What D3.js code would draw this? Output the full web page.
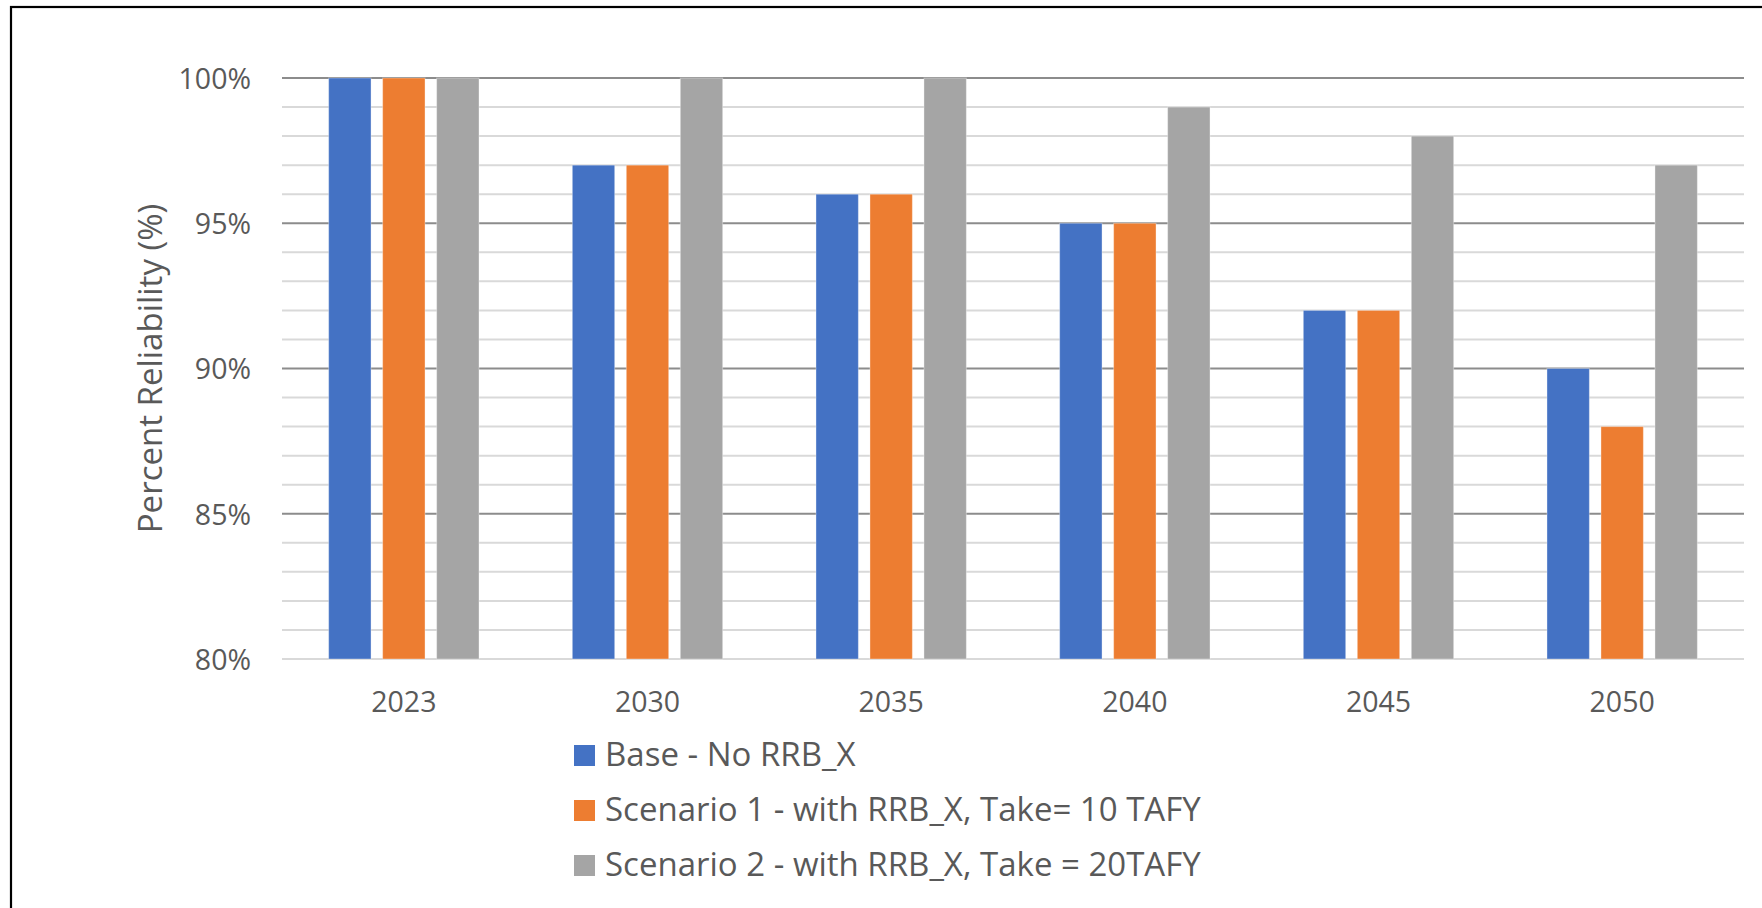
<!DOCTYPE html>
<html>
<head>
<meta charset="utf-8">
<script src="https://cdn.jsdelivr.net/npm/d3@7"></script>
<style>
  html, body { margin: 0; padding: 0; background: #ffffff; }
  svg { display: block; font-family: "Open Sans", "Noto Sans", sans-serif; }
</style>
</head>
<body>
<svg id="chart" width="1762" height="908"></svg>
<script>
// Reliability by planning year for each operating scenario
const years = ["2023", "2030", "2035", "2040", "2045", "2050"];
const seriesNames = [
  "Base - No RRB_X",
  "Scenario 1 - with RRB_X, Take= 10 TAFY",
  "Scenario 2 - with RRB_X, Take = 20TAFY"
];
const baseValues = [100, 97, 96, 95, 92, 90];
const scenario1Values = [100, 97, 96, 95, 92, 88];
const scenario2Values = [100, 100, 100, 99, 98, 97];
const yTicks = [80, 85, 90, 95, 100];
const seriesColors = ["#4472C4", "#ED7D31", "#A5A5A5"];
const yTitle = "Percent Reliability (%)";

const seriesValues = [baseValues, scenario1Values, scenario2Values];
const rows = years.map((yr, i) => ({
  year: yr,
  values: seriesNames.map((name, s) => ({ name, s, value: seriesValues[s][i] }))
}));

const svg = d3.select("#chart");
const plot = { left: 282, right: 1744, top: 78, bottom: 659 };

// Outer frame
svg.append("rect")
  .attr("x", 11).attr("y", 7)
  .attr("width", 1800).attr("height", 1000)
  .attr("fill", "none").attr("stroke", "#000").attr("stroke-width", 2.2);

const x0 = d3.scaleBand().domain(years).range([plot.left, plot.right]).padding(0);
const x1 = d3.scaleBand().domain(d3.range(seriesNames.length))
  .range([0, x0.bandwidth()]).paddingInner(0.215).paddingOuter(0.864);
const y = d3.scaleLinear().domain([80, 100]).range([plot.bottom, plot.top]);

// Gridlines: minor every 1%, major every 5%
const minor = d3.range(80, 100.5, 1);
svg.append("g").selectAll("line")
  .data(minor.filter(v => v % 5 !== 0 || v === 80))
  .join("line")
  .attr("x1", plot.left).attr("x2", plot.right)
  .attr("y1", d => y(d)).attr("y2", d => y(d))
  .attr("stroke", "#d9d9d9").attr("stroke-width", 2);
svg.append("g").selectAll("line")
  .data(yTicks.filter(v => v !== 80))
  .join("line")
  .attr("x1", plot.left).attr("x2", plot.right)
  .attr("y1", d => y(d)).attr("y2", d => y(d))
  .attr("stroke", "#8c8c8c").attr("stroke-width", 2);

// Bars
svg.append("g").selectAll("g")
  .data(rows)
  .join("g")
  .attr("transform", d => `translate(${x0(d.year)},0)`)
  .selectAll("rect")
  .data(d => d.values)
  .join("rect")
  .attr("x", d => x1(d.s))
  .attr("width", x1.bandwidth())
  .attr("y", d => y(d.value))
  .attr("height", d => y(80) - y(d.value))
  .attr("fill", d => seriesColors[d.s])
  .attr("stroke", "#ffffff").attr("stroke-opacity", 0.35).attr("stroke-width", 1);

// Y axis labels
const yAxis = d3.axisLeft(y).tickValues(yTicks).tickFormat(d => d + "%").tickSize(0).tickPadding(31);
const yg = svg.append("g").attr("transform", `translate(${plot.left},0)`).call(yAxis);
yg.select(".domain").remove();
yg.selectAll("text")
  .attr("font-family", "Open Sans, sans-serif")
  .attr("font-size", 28.5).attr("fill", "#595959").attr("dy", "0.36em");

// X axis labels
const xAxis = d3.axisBottom(x0).tickSize(0).tickPadding(0);
const xg = svg.append("g").attr("transform", `translate(0,${plot.bottom})`).call(xAxis);
xg.select(".domain").remove();
xg.selectAll("text")
  .attr("font-family", "Open Sans, sans-serif")
  .attr("font-size", 28.5).attr("fill", "#595959")
  .attr("y", 52.5).attr("dy", 0);

// Y axis title
svg.append("text")
  .attr("transform", `translate(162,${(plot.top + plot.bottom) / 2}) rotate(-90)`)
  .attr("text-anchor", "middle")
  .attr("font-size", 33).attr("fill", "#595959")
  .text(yTitle);

// Legend
const legend = svg.append("g").selectAll("g")
  .data(seriesNames)
  .join("g")
  .attr("transform", (d, i) => `translate(574,${766 + i * 55})`);
legend.append("rect")
  .attr("x", 0).attr("y", -21).attr("width", 21).attr("height", 21)
  .attr("fill", (d, i) => seriesColors[i]);
legend.append("text")
  .attr("x", 31).attr("y", 0)
  .attr("font-size", 33).attr("fill", "#595959")
  .text(d => d);
</script>
</body>
</html>
